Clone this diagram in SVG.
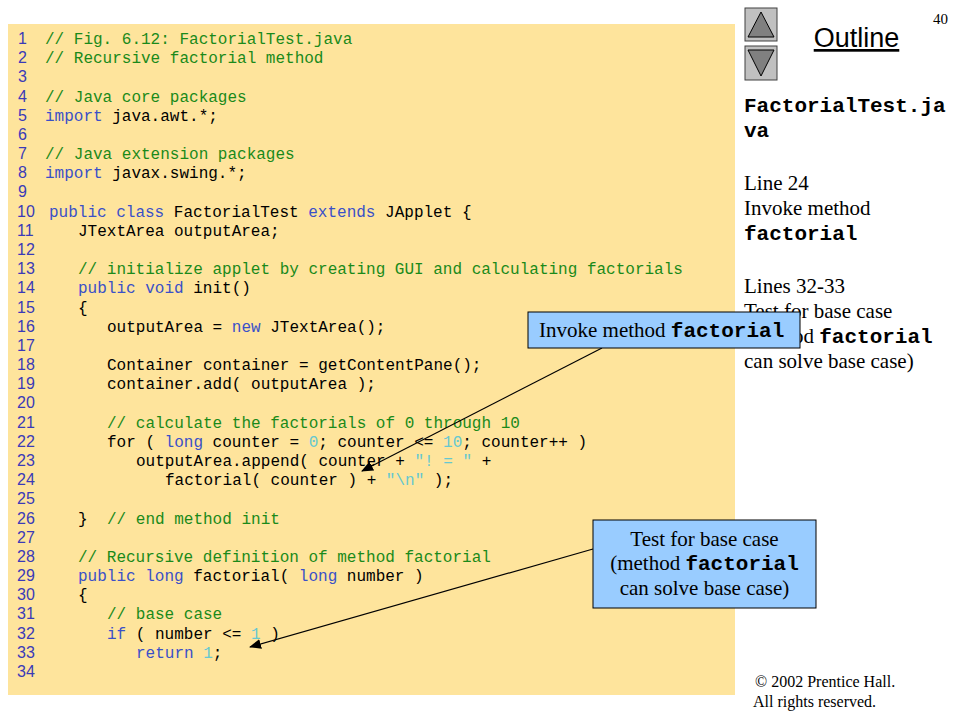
<svg xmlns="http://www.w3.org/2000/svg" width="960" height="720" viewBox="0 0 960 720">
<style>
.code{font-family:"Liberation Mono","Courier New",monospace;font-size:16px;fill:#000;white-space:pre}
.num{font-family:"Liberation Sans",Arial,sans-serif;font-size:16px;fill:#3a3ab8}
.c{fill:#1a8a1a}
.k{fill:#3a50c8}
.l{fill:#66c8d0}
.serif{font-family:"Liberation Serif","Times New Roman",serif;font-size:21px;fill:#000;white-space:pre}
.mb{font-family:"Liberation Mono","Courier New",monospace;font-weight:bold;font-size:21px}
.btn{fill:#c0c0c0;stroke:#404040;stroke-width:1}
.tri{fill:#808080;stroke:#000;stroke-width:1}
.callout{fill:#99ccff;stroke:#000;stroke-width:1}
.conn{stroke:#000;stroke-width:1.2;fill:none}
</style>
<defs>
<marker id="ah" markerUnits="userSpaceOnUse" markerWidth="12" markerHeight="10" refX="11" refY="5" orient="auto">
<path d="M0,0 L12,5 L0,10 Z" fill="#000"/>
</marker>
</defs>
<rect width="960" height="720" fill="#fff"/>
<g id="code-panel">
<rect x="8" y="24" width="727" height="671" fill="#fee49c"/>
<g class="num">
<text x="18" y="44">1</text>
<text x="18" y="63.2">2</text>
<text x="18" y="82.4">3</text>
<text x="18" y="101.5">4</text>
<text x="18" y="120.7">5</text>
<text x="18" y="139.9">6</text>
<text x="18" y="159.1">7</text>
<text x="18" y="178.3">8</text>
<text x="18" y="197.4">9</text>
<text x="17" y="216.6">10</text>
<text x="17" y="235.8">11</text>
<text x="17" y="255">12</text>
<text x="17" y="274.2">13</text>
<text x="17" y="293.3">14</text>
<text x="17" y="312.5">15</text>
<text x="17" y="331.7">16</text>
<text x="17" y="350.9">17</text>
<text x="17" y="370.1">18</text>
<text x="17" y="389.2">19</text>
<text x="17" y="408.4">20</text>
<text x="17" y="427.6">21</text>
<text x="17" y="446.8">22</text>
<text x="17" y="466">23</text>
<text x="17" y="485.1">24</text>
<text x="17" y="504.3">25</text>
<text x="17" y="523.5">26</text>
<text x="17" y="542.7">27</text>
<text x="17" y="561.9">28</text>
<text x="17" y="581">29</text>
<text x="17" y="600.2">30</text>
<text x="17" y="619.4">31</text>
<text x="17" y="638.6">32</text>
<text x="17" y="657.8">33</text>
<text x="17" y="677">34</text>
</g>
<g class="code" xml:space="preserve">
<text x="45" y="44"><tspan class="c">// Fig. 6.12: FactorialTest.java</tspan></text>
<text x="45" y="63.2"><tspan class="c">// Recursive factorial method</tspan></text>
<text x="45" y="101.5"><tspan class="c">// Java core packages</tspan></text>
<text x="45" y="120.7"><tspan class="k">import</tspan> java.awt.*;</text>
<text x="45" y="159.1"><tspan class="c">// Java extension packages</tspan></text>
<text x="45" y="178.3"><tspan class="k">import</tspan> javax.swing.*;</text>
<text x="49" y="216.6"><tspan class="k">public class</tspan> FactorialTest <tspan class="k">extends</tspan> JApplet {</text>
<text x="78" y="235.8">JTextArea outputArea;</text>
<text x="78" y="274.2"><tspan class="c">// initialize applet by creating GUI and calculating factorials</tspan></text>
<text x="78" y="293.3"><tspan class="k">public void</tspan> init()</text>
<text x="78" y="312.5">{</text>
<text x="107" y="331.7">outputArea = <tspan class="k">new</tspan> JTextArea();</text>
<text x="107" y="370.1">Container container = getContentPane();</text>
<text x="107" y="389.2">container.add( outputArea );</text>
<text x="107" y="427.6"><tspan class="c">// calculate the factorials of 0 through 10</tspan></text>
<text x="107" y="446.8">for ( <tspan class="k">long</tspan> counter = <tspan class="l">0</tspan>; counter &lt;= <tspan class="l">10</tspan>; counter++ )</text>
<text x="136" y="466">outputArea.append( counter + <tspan class="l">"! = "</tspan> +</text>
<text x="165" y="485.1">factorial( counter ) + <tspan class="l">"\n"</tspan> );</text>
<text x="78" y="523.5">}<tspan class="c" x="107">// end method init</tspan></text>
<text x="78" y="561.9"><tspan class="c">// Recursive definition of method factorial</tspan></text>
<text x="78" y="581"><tspan class="k">public long</tspan> factorial( <tspan class="k">long</tspan> number )</text>
<text x="78" y="600.2">{</text>
<text x="107" y="619.4"><tspan class="c">// base case</tspan></text>
<text x="107" y="638.6"><tspan class="k">if</tspan> ( number &lt;= <tspan class="l">1</tspan> )</text>
<text x="136" y="657.8"><tspan class="k">return</tspan> <tspan class="l">1</tspan>;</text>
</g>
</g>
<g id="nav-up">
<rect class="btn" x="745" y="8" width="32" height="33"/>
<path class="tri" d="M761,12 L774,37 L748,37 Z"/>
</g>
<g id="nav-down">
<rect class="btn" x="745" y="46" width="32" height="34"/>
<path class="tri" d="M748,50 L774,50 L761,76 Z"/>
</g>
<g id="header">
<text x="856.5" y="47" text-anchor="middle" font-family="'Liberation Sans',Arial,sans-serif" font-size="27" text-decoration="underline">Outline</text>
<text x="933" y="24" font-family="'Liberation Serif','Times New Roman',serif" font-size="15">40</text>
</g>
<g id="side-notes" class="serif">
<text x="744" y="112"><tspan class="mb">FactorialTest.ja</tspan></text>
<text x="744" y="137"><tspan class="mb">va</tspan></text>
<text x="744" y="190">Line 24</text>
<text x="744" y="215">Invoke method</text>
<text x="744" y="240"><tspan class="mb">factorial</tspan></text>
<text x="744" y="293">Lines 32-33</text>
<text x="744" y="318">Test for base case</text>
<text x="744" y="343">(method <tspan class="mb">factorial</tspan></text>
<text x="744" y="368">can solve base case)</text>
</g>
<g id="footer" font-family="'Liberation Serif','Times New Roman',serif" font-size="16">
<text x="755" y="687">© 2002 Prentice Hall.</text>
<text x="753" y="707">All rights reserved.</text>
</g>
<g id="connectors">
<line class="conn" x1="602" y1="348" x2="362" y2="471" marker-end="url(#ah)"/>
<line class="conn" x1="593" y1="549" x2="250" y2="647" marker-end="url(#ah)"/>
</g>
<g id="callout-invoke">
<rect class="callout" x="528" y="312" width="272" height="36"/>
<text class="serif" x="539" y="337">Invoke method <tspan class="mb">factorial</tspan></text>
</g>
<g id="callout-base">
<rect class="callout" x="593" y="520" width="223" height="88"/>
<text class="serif" x="704.5" y="546" text-anchor="middle">Test for base case</text>
<text class="serif" x="704.5" y="570" text-anchor="middle">(method <tspan class="mb">factorial</tspan></text>
<text class="serif" x="704.5" y="595" text-anchor="middle">can solve base case)</text>
</g>
</svg>
